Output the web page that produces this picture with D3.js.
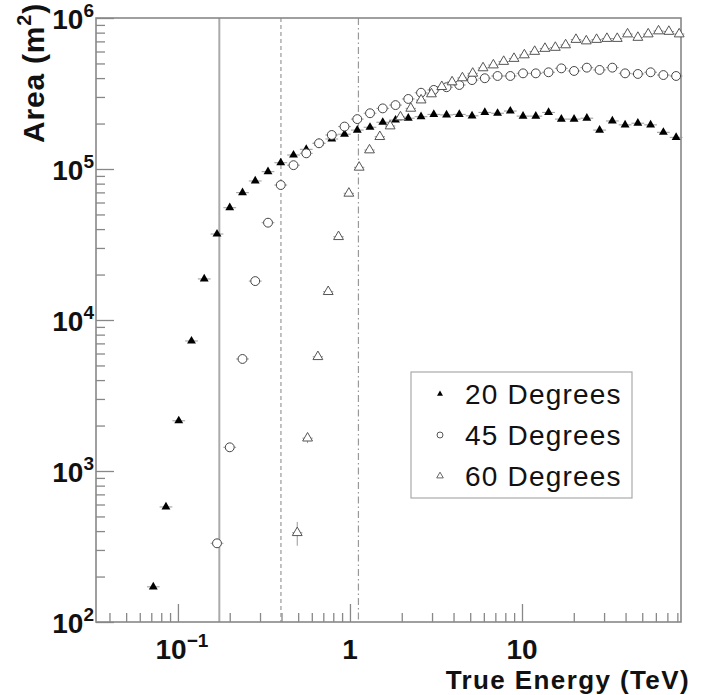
<!DOCTYPE html>
<html>
<head>
<meta charset="utf-8">
<script src="https://cdn.jsdelivr.net/npm/d3@7/dist/d3.min.js"></script>
<style>
  html, body { margin: 0; padding: 0; background: #fff; }
  svg { display: block; font-family: "Liberation Sans", Arial, Helvetica, sans-serif; }
</style>
</head>
<body>
<svg id="chart" width="703" height="695"></svg>
<script>
// bin centres (TeV) shared by the 20 and 45 degree curves
const energy2045 = [0.0719, 0.0852, 0.1011, 0.1199, 0.1422, 0.1687, 0.2001, 0.2373,
  0.2814, 0.3339, 0.3960, 0.4697, 0.5571, 0.6608, 0.7838, 0.9297, 1.103, 1.308,
  1.551, 1.840, 2.183, 2.589, 3.071, 3.643, 4.321, 5.125, 6.079, 7.211, 8.553,
  10.14, 12.03, 14.27, 16.93, 20.08, 23.82, 28.25, 33.51, 39.75, 47.15, 55.93,
  66.34, 78.69];

// 60 degree curve uses its own binning
const energy60 = [0.4938, 0.5670, 0.6510, 0.7474, 0.8581, 0.9854, 1.131, 1.299,
  1.491, 1.712, 1.966, 2.257, 2.592, 2.976, 3.417, 3.923, 4.504, 5.171, 5.937,
  6.817, 7.827, 8.987, 10.32, 11.85, 13.60, 15.62, 17.93, 20.59, 23.64, 27.14,
  31.16, 35.78, 41.08, 47.17, 54.16, 62.18, 71.40, 81.98];

const area20 = [171, 578, 2150, 7260, 18700, 37100, 55400, 69700, 83300, 96000,
  110000, 123800, 135000, 148000, 158000, 170000, 181000, 189000, 204000, 211000,
  217000, 222000, 230000, 228000, 230000, 225000, 237000, 234000, 242000, 224000,
  224000, 237000, 214000, 214000, 217000, 181000, 208000, 196000, 201000, 196000,
  175000, 162000];

const area45 = [null, null, null, null, null, 332, 1435, 5520, 18100, 44100,
  78300, 106000, 127000, 148000, 168000, 191000, 214000, 234000, 252000, 265000,
  291000, 320000, 334000, 348000, 360000, 388000, 399000, 413000, 413000, 430000,
  430000, 437000, 464000, 446000, 469000, 453000, 469000, 430000, 426000, 437000,
  419000, 413000];

const area60 = [390, 1650, 5710, 15400, 35600, 69000, 102600, 133600, 163700,
  192600, 221000, 252000, 286000, 314000, 351000, 377000, 401000, 430000, 467000,
  488000, 515000, 539000, 569000, 600000, 628000, 638000, 663000, 720000, 704000,
  720000, 731000, 731000, 783000, 743000, 783000, 820000, 814000, 783000];

// statistical errors on the first (low-count) 60 degree bins
const err60 = [70, 120, 250];

// energy thresholds drawn as vertical lines
const thresholds = [
  { e: 0.174, dash: null, color: '#aaa', width: 2 },
  { e: 0.397, dash: '4,3', color: '#999', width: 1.2 },
  { e: 1.12, dash: '7,3,1.5,3', color: '#999', width: 1.2 }
];

const legendLabels = ['20 Degrees', '45 Degrees', '60 Degrees'];
const xTickLabels = [{ v: 0.1, base: '10', exp: '\u22121' }, { v: 1, base: '1' }, { v: 10, base: '10' }];
const yTickExps = [2, 3, 4, 5, 6];

const svg = d3.select('#chart');
const frame = { left: 96, right: 681, top: 18, bottom: 622 };

const x = d3.scaleLog().domain([0.0334, 84.0]).range([frame.left, frame.right]);
const y = d3.scaleLog().domain([100, 1e6]).range([frame.bottom, frame.top]);

// ticks (inward, left and bottom only)
function minorTicks(scale) {
  const [a, b] = scale.domain();
  const out = [];
  for (let p = Math.floor(Math.log10(a)); p <= Math.ceil(Math.log10(b)); p++) {
    for (let m = 2; m <= 9; m++) {
      const v = m * Math.pow(10, p);
      if (v > a && v < b) out.push(v);
    }
  }
  return out;
}

const axisStyle = (g) => {
  g.select('.domain').remove();
  g.selectAll('line').attr('stroke', '#888').attr('stroke-width', 1.3);
  g.selectAll('text').remove();
};

svg.append('g').attr('transform', `translate(${frame.left},0)`)
  .call(d3.axisLeft(y).tickValues(yTickExps.map((p) => Math.pow(10, p))).tickSize(-18))
  .call(axisStyle);
svg.append('g').attr('transform', `translate(${frame.left},0)`)
  .call(d3.axisLeft(y).tickValues(minorTicks(y)).tickSize(-9))
  .call(axisStyle);
svg.append('g').attr('transform', `translate(0,${frame.bottom})`)
  .call(d3.axisBottom(x).tickValues([0.1, 1, 10]).tickSize(-18))
  .call(axisStyle);
svg.append('g').attr('transform', `translate(0,${frame.bottom})`)
  .call(d3.axisBottom(x).tickValues(minorTicks(x)).tickSize(-9))
  .call(axisStyle);

// threshold lines
svg.append('g').selectAll('line').data(thresholds).join('line')
  .attr('x1', (d) => x(d.e)).attr('x2', (d) => x(d.e))
  .attr('y1', frame.top).attr('y2', frame.bottom)
  .attr('stroke', (d) => d.color)
  .attr('stroke-width', (d) => d.width)
  .attr('stroke-dasharray', (d) => d.dash);

// frame
svg.append('rect')
  .attr('x', frame.left).attr('y', frame.top)
  .attr('width', frame.right - frame.left).attr('height', frame.bottom - frame.top)
  .attr('fill', 'none').attr('stroke', '#888').attr('stroke-width', 1.6);

// tick labels
const yLab = svg.append('g').attr('font-weight', 'bold').attr('fill', '#111');
yTickExps.forEach((p) => {
  const t = yLab.append('text')
    .attr('x', frame.left - 2).attr('y', y(Math.pow(10, p)) + 11)
    .attr('text-anchor', 'end').attr('font-size', 28);
  t.append('tspan').text('10');
  t.append('tspan').attr('dy', -12).attr('font-size', 19).text(p);
});

const xLab = svg.append('g').attr('font-weight', 'bold').attr('fill', '#111');
xTickLabels.forEach((d) => {
  const t = xLab.append('text')
    .attr('x', x(d.v) + (d.exp ? 4 : 0)).attr('y', 659)
    .attr('text-anchor', 'middle').attr('font-size', 28);
  t.append('tspan').text(d.base);
  if (d.exp) t.append('tspan').attr('dy', -12).attr('font-size', 19).text(d.exp);
});

// axis titles
svg.append('text')
  .attr('x', 690).attr('y', 689)
  .attr('text-anchor', 'end').attr('font-weight', 'bold').attr('font-size', 26)
  .attr('letter-spacing', 1.4).attr('fill', '#111')
  .text('True Energy (TeV)');

const yTitle = svg.append('text')
  .attr('transform', 'translate(44,143) rotate(-90)')
  .attr('font-weight', 'bold').attr('font-size', 30)
  .attr('letter-spacing', 0.8).attr('fill', '#111');
yTitle.append('tspan').text('Area (m');
yTitle.append('tspan').attr('dy', -13).attr('font-size', 20).text('2');
yTitle.append('tspan').attr('dy', 13).text(')');

// series: bin edges are the geometric midpoints between neighbouring centres
function toPoints(energies, areas, errs) {
  const pts = [];
  const n = energies.length;
  energies.forEach((e, i) => {
    if (areas[i] == null) return;
    const hw = i < n - 1 ? Math.sqrt(energies[i + 1] / e) : Math.sqrt(e / energies[i - 1]);
    pts.push({ e, a: areas[i], lo: e / hw, hi: e * hw, err: (errs && errs[i]) || 0 });
  });
  return pts;
}

const series = [
  { pts: toPoints(energy2045, area20), symbol: d3.symbolTriangle, size: 34, fill: '#000', stroke: 'none' },
  { pts: toPoints(energy2045, area45), symbol: d3.symbolCircle, size: 62, fill: '#fff', stroke: '#444' },
  { pts: toPoints(energy60, area60, err60), symbol: d3.symbolTriangle, size: 42, fill: '#fff', stroke: '#555' }
];

const errLayer = svg.append('g').attr('stroke', '#999').attr('stroke-width', 1);
series.forEach((s) => {
  errLayer.append('g').selectAll('line').data(s.pts).join('line')
    .attr('x1', (d) => x(d.lo)).attr('x2', (d) => x(d.hi))
    .attr('y1', (d) => y(d.a)).attr('y2', (d) => y(d.a));
  errLayer.append('g').selectAll('line').data(s.pts.filter((d) => d.err > 0)).join('line')
    .attr('x1', (d) => x(d.e)).attr('x2', (d) => x(d.e))
    .attr('y1', (d) => y(d.a - d.err)).attr('y2', (d) => y(d.a + d.err));
});

series.forEach((s) => {
  svg.append('g').selectAll('path').data(s.pts).join('path')
    .attr('transform', (d) => `translate(${x(d.e)},${y(d.a)})`)
    .attr('d', d3.symbol().type(s.symbol).size(s.size))
    .attr('fill', s.fill)
    .attr('stroke', s.stroke)
    .attr('stroke-width', 1);
});

// legend
const legend = svg.append('g');
legend.append('rect')
  .attr('x', 411).attr('y', 372).attr('width', 221).attr('height', 126)
  .attr('fill', '#fff').attr('stroke', '#aaa').attr('stroke-width', 1.2);
legendLabels.forEach((label, i) => {
  const s = series[i];
  const cy = 394 + i * 41;
  legend.append('path')
    .attr('transform', `translate(440,${cy})`)
    .attr('d', d3.symbol().type(s.symbol).size(s.size * 0.45))
    .attr('fill', s.fill).attr('stroke', s.stroke).attr('stroke-width', 0.9);
  legend.append('text')
    .attr('x', 465).attr('y', cy + 10)
    .attr('font-size', 28).attr('letter-spacing', 1.2).attr('fill', '#111')
    .text(label);
});
</script>
</body>
</html>
